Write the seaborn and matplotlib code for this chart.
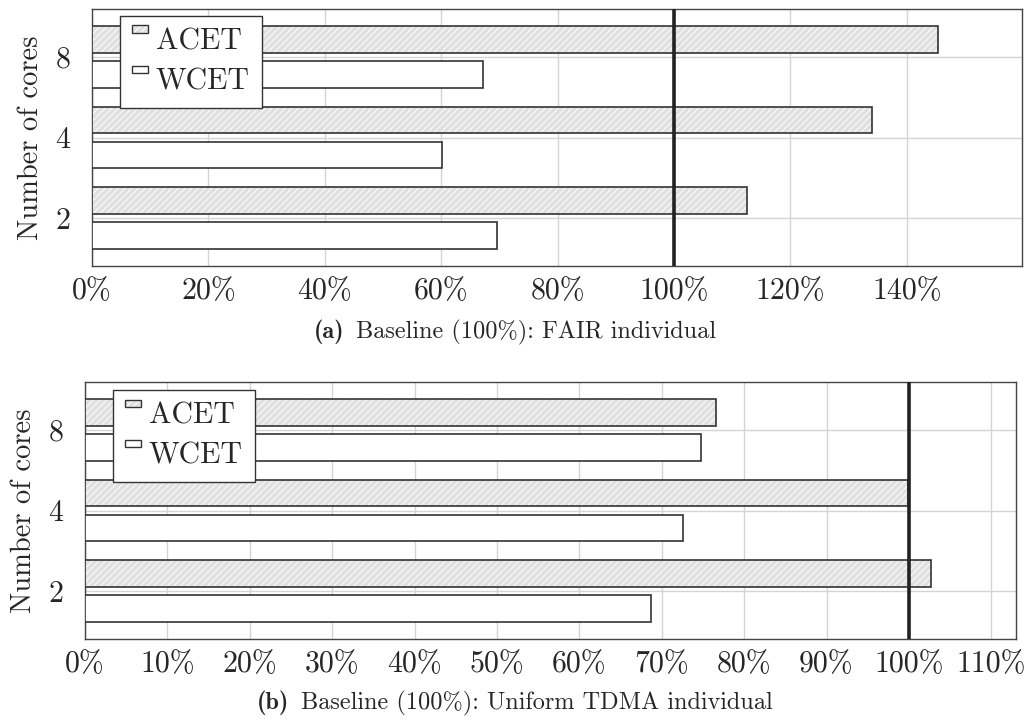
"""Relative execution time bars: ACET vs WCET against two baselines."""

import matplotlib

matplotlib.use("Agg")

import matplotlib.pyplot as plt
import pandas as pd
import seaborn as sns
from matplotlib.colors import to_rgba
from matplotlib.legend_handler import HandlerPatch
from matplotlib.patches import Patch, Rectangle

cores = ["8", "4", "2"]
series = ["ACET", "WCET"]

# values in percent of the baseline, ordered like `cores`
fair_acet = [145.3, 134.0, 112.5]
fair_wcet = [67.2, 60.1, 69.6]
tdma_acet = [76.6, 99.9, 102.7]
tdma_wcet = [74.8, 72.6, 68.7]

fair_ticks = [0, 20, 40, 60, 80, 100, 120, 140]
tdma_ticks = [0, 10, 20, 30, 40, 50, 60, 70, 80, 90, 100, 110]

captions = [
    ("(a)", "Baseline (100%): FAIR individual"),
    ("(b)", "Baseline (100%): Uniform TDMA individual"),
]

sns.set_style("white")
plt.rcParams["font.family"] = ["cmr10", "DejaVu Serif"]
plt.rcParams["axes.formatter.use_mathtext"] = True
plt.rcParams["hatch.linewidth"] = 0.7

FILL = {"ACET": "#e0e0e0", "WCET": "#ffffff"}
EDGE = "#333333"
HATCH = "/////"


def _raised_box(legend, orig_handle, xdescent, ydescent, width, height, fontsize):
    # small flat box sitting at the top of the legend row (pgfplots look)
    return Rectangle((-xdescent, -ydescent + height * 0.78), width, height * 0.36)


def _long(acet, wcet):
    rows = []
    for name, vals in (("ACET", acet), ("WCET", wcet)):
        for c, v in zip(cores, vals):
            rows.append({"cores": c, "series": name, "value": v})
    return pd.DataFrame(rows)


def _draw(ax, df, ticks, xmax, legend_anchor):
    sns.barplot(
        data=df, x="value", y="cores", hue="series", orient="h",
        order=cores, hue_order=series, palette=FILL, width=0.87, gap=0.24,
        edgecolor=EDGE, linewidth=1.2, legend=False, ax=ax, zorder=3,
    )
    for p in ax.containers[0]:
        p.set_hatch(HATCH)
        p._hatch_color = to_rgba("white")

    ax.axvline(100, color="#222222", linewidth=2.6, zorder=5)
    ax.set_xlim(0, xmax)
    ax.set_ylim(2.6, -0.6)
    ax.set_xticks(ticks)
    ax.set_xticklabels([f"{t}%" for t in ticks])
    ax.grid(True, color="#d4d4d4", linewidth=1.0, zorder=0)
    ax.set_axisbelow(True)
    ax.tick_params(axis="x", labelsize=21.5, length=5, direction="inout",
                   color="#aaaaaa", pad=6)
    ax.tick_params(axis="y", labelsize=21.5, length=5, direction="inout",
                   color="#aaaaaa", pad=13)
    ax.set_xlabel("")
    ax.set_ylabel("Number of cores", fontsize=20.5, labelpad=8)
    for s in ax.spines.values():
        s.set_color("#444444")
        s.set_linewidth(1.0)

    handles = [
        Patch(facecolor=FILL["ACET"], edgecolor=EDGE, hatch=HATCH, linewidth=1.0, label="ACET"),
        Patch(facecolor=FILL["WCET"], edgecolor=EDGE, linewidth=1.0, label="WCET"),
    ]
    leg = ax.legend(
        handles=handles, loc="upper left", bbox_to_anchor=legend_anchor,
        borderaxespad=0, fontsize=21.5, handlelength=0.55, handleheight=0.7,
        handletextpad=0.25, labelspacing=0.43, borderpad=0.4,
        fancybox=False, framealpha=1, edgecolor="#333333",
        handler_map={Patch: HandlerPatch(patch_func=_raised_box)},
    )
    leg.get_frame().set_linewidth(1.0)
    leg.set_zorder(10)
    leg.get_patches()[0]._hatch_color = to_rgba("white")


fig = plt.figure(figsize=(10.28, 7.22), dpi=100)
W, H = 1028, 722

ax_a = fig.add_axes([92 / W, 1 - 266 / H, 930 / W, 257 / H])
_draw(ax_a, _long(fair_acet, fair_wcet), fair_ticks, 159.8, (0.030, 0.973))

ax_b = fig.add_axes([85 / W, 1 - 639 / H, 931 / W, 257 / H])
_draw(ax_b, _long(tdma_acet, tdma_wcet), tdma_ticks, 113.0, (0.030, 0.969))

for (tag, text), (xsplit, ytxt) in zip(captions, [(344, 332), (289, 703)]):
    fig.text(xsplit / W, 1 - ytxt / H, tag, ha="right", va="center",
             fontsize=17.5, family="cmb10")
    fig.text((xsplit + 12) / W, 1 - ytxt / H, text, ha="left", va="center",
             fontsize=17.5)

fig.savefig("out.png", dpi=100)
plt.close(fig)
